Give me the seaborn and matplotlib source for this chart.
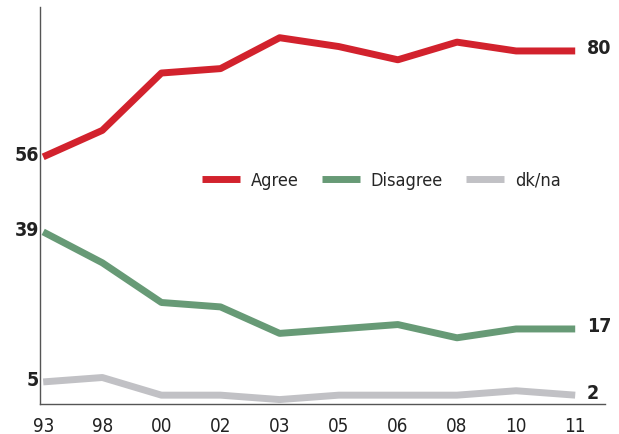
import matplotlib.pyplot as plt
import pandas as pd
import seaborn as sns

# Data
years = ['93', '98', '00', '02', '03', '05', '06', '08', '10', '11']
agree = [56, 62, 75, 76, 83, 81, 78, 82, 80, 80]
disagree = [39, 32, 23, 22, 16, 17, 18, 15, 17, 17]
dkna = [5, 6, 2, 2, 1, 2, 2, 2, 3, 2]
series_names = ['Agree', 'Disagree', 'dk/na']
colors = ['#d2222d', '#679a76', '#c1c1c5']

df = pd.DataFrame({'year': years, 'Agree': agree, 'Disagree': disagree, 'dk/na': dkna})
df['x'] = range(len(years))
long_df = df.melt(id_vars=['year', 'x'], value_vars=series_names, var_name='series', value_name='value')

sns.set_style('white')
plt.rcParams['font.family'] = ['DejaVu Sans']
plt.rcParams['font.stretch'] = 'condensed'

fig = plt.figure(figsize=(6.19, 4.35), dpi=100)
ax = fig.add_axes([0.065, 0.069, 0.912, 0.913])

sns.lineplot(data=long_df, x='x', y='value', hue='series', hue_order=series_names,
             palette=colors, linewidth=5, solid_capstyle='butt', ax=ax, legend=False)

ax.set_xlim(-0.05, 9.5)
ax.set_ylim(0, 90)
ax.set_xticks(df['x'])
ax.set_xticklabels(years, fontsize=13.5, color='#222222')
ax.set_yticks([])
ax.set_xlabel('')
ax.set_ylabel('')
ax.tick_params(axis='x', length=0, pad=9)

for s in ['top', 'right']:
    ax.spines[s].set_visible(False)
for s in ['left', 'bottom']:
    ax.spines[s].set_color('#555555')
    ax.spines[s].set_linewidth(1)

# End labels
for vals in [agree, disagree, dkna]:
    ax.text(-0.07, vals[0] + 0.6, str(vals[0]), ha='right', va='center', fontsize=14,
            fontweight='bold', color='#222222')
    ax.text(9.2, vals[-1] + 0.7, str(vals[-1]), ha='left', va='center', fontsize=14,
            fontweight='bold', color='#222222')

handles = [plt.Line2D([0], [0], color=c, lw=5, solid_capstyle='butt') for c in colors]
ax.legend(handles, series_names, loc='center', bbox_to_anchor=(0.604, 0.564), ncol=3,
          frameon=False, fontsize=13, handlelength=2.1, columnspacing=1.3,
          handletextpad=0.6)

fig.savefig('out.png', dpi=100)
